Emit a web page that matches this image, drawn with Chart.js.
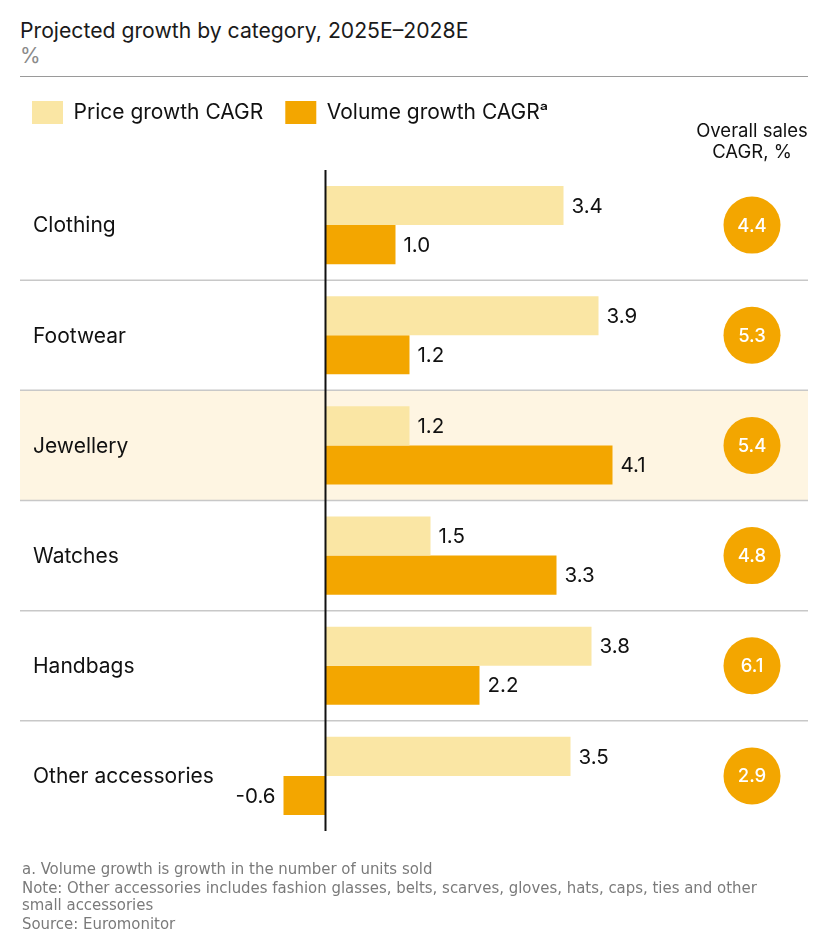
<!DOCTYPE html>
<html>
<head>
<meta charset="utf-8">
<script src="https://cdn.jsdelivr.net/npm/chart.js@4/dist/chart.umd.min.js"></script>
<style>
  body { margin: 0; background: #fff; font-family: Inter, "DejaVu Sans", sans-serif; }
  #wrap { position: relative; width: 840px; height: 948px; }
  #box { position: absolute; left: 0; top: 0; width: 840px; height: 948px; }
  .title { position: absolute; left: 20px; top: 17px; font-size: 21.2px; color: #1a1a1a; white-space: nowrap; }
  .unit { position: absolute; left: 20px; top: 43px; font-size: 21px; color: #8a8a8a; }
  .rule { position: absolute; left: 20px; top: 76px; width: 788px; border-top: 1.5px solid #9a9a9a; }
  .notes { position: absolute; left: 22px; top: 860px; font-family: "Liberation Sans Narrow", "DejaVu Sans Condensed", sans-serif;
           font-size: 16.6px; color: #7a7a7a; line-height: 17px; }
  .notes div { margin-bottom: 2px; }
</style>
</head>
<body>
<div id="wrap">
  <div class="title">Projected growth by category, 2025E–2028E</div>
  <div class="unit">%</div>
  <div class="rule"></div>
  <div id="box"><canvas id="cht"></canvas></div>
  <div class="notes">
    <div>a. Volume growth is growth in the number of units sold</div>
    <div>Note: Other accessories includes fashion glasses, belts, scarves, gloves, hats, caps, ties and other<br>small accessories</div>
    <div>Source: Euromonitor</div>
  </div>
</div>
<script>
const categories = ['Clothing', 'Footwear', 'Jewellery', 'Watches', 'Handbags', 'Other accessories'];
const priceGrowth = [3.4, 3.9, 1.2, 1.5, 3.8, 3.5];
const volumeGrowth = [1.0, 1.2, 4.1, 3.3, 2.2, -0.6];
const overallSales = [4.4, 5.3, 5.4, 4.8, 6.1, 2.9];
const highlighted = 'Jewellery';

const lightYellow = '#fae6a4';
const orange = '#f3a600';

Chart.defaults.font.family = 'Inter, "DejaVu Sans", sans-serif';
Chart.defaults.color = '#111';

// row backgrounds, separators, zero line, labels and the circles column
const rowsPlugin = {
  id: 'rows',
  beforeDraw(chart) {
    const { ctx, scales: { y } } = chart;
    const step = y.getPixelForValue(1) - y.getPixelForValue(0);
    const left = 20, right = 808;
    ctx.save();
    const hi = categories.indexOf(highlighted);
    ctx.fillStyle = '#fef5e2';
    ctx.fillRect(left, y.getPixelForValue(hi) - step / 2, right - left, step);
    ctx.strokeStyle = '#c8c8c8';
    ctx.lineWidth = 1.5;
    for (let i = 0; i < categories.length - 1; i++) {
      const yy = (y.getPixelForValue(i) + y.getPixelForValue(i + 1)) / 2;
      ctx.beginPath();
      ctx.moveTo(left, yy);
      ctx.lineTo(right, yy);
      ctx.stroke();
    }
    ctx.restore();
  },
  afterDatasetsDraw(chart) {
    const { ctx, chartArea, scales: { x, y } } = chart;
    ctx.save();
    // zero line
    const x0 = x.getPixelForValue(0);
    ctx.strokeStyle = '#111';
    ctx.lineWidth = 2;
    ctx.beginPath();
    ctx.moveTo(x0, chartArea.top);
    ctx.lineTo(x0, chartArea.bottom);
    ctx.stroke();

    // value labels
    ctx.font = '20.5px Inter, "DejaVu Sans", sans-serif';
    ctx.fillStyle = '#111';
    ctx.textBaseline = 'middle';
    chart.data.datasets.forEach((ds, di) => {
      chart.getDatasetMeta(di).data.forEach((bar, i) => {
        const v = ds.data[i];
        const neg = v < 0;
        ctx.textAlign = neg ? 'right' : 'left';
        ctx.fillText(v.toFixed(1), bar.x + (neg ? -8 : 8), bar.y + 1);
      });
    });

    // category names
    ctx.textAlign = 'left';
    ctx.font = '21px Inter, "DejaVu Sans", sans-serif';
    categories.forEach((c, i) => {
      ctx.fillText(c, 33, y.getPixelForValue(i) + 1);
    });

    // overall sales circles
    const cx = 752;
    ctx.textAlign = 'center';
    ctx.font = '18.5px Inter, "DejaVu Sans", sans-serif';
    ctx.fillText('Overall sales', cx, 131);
    ctx.fillText('CAGR, %', cx, 152);
    overallSales.forEach((v, i) => {
      const cy = y.getPixelForValue(i);
      ctx.fillStyle = orange;
      ctx.beginPath();
      ctx.arc(cx, cy, 28.5, 0, Math.PI * 2);
      ctx.fill();
      ctx.fillStyle = '#fff';
      ctx.font = '500 18.5px Inter, "DejaVu Sans", sans-serif';
      ctx.fillText(v.toFixed(1), cx, cy + 1);
    });
    ctx.restore();
  }
};

new Chart('cht', {
  type: 'bar',
  data: {
    labels: categories,
    datasets: [
      { label: 'Price growth CAGR', data: priceGrowth, backgroundColor: lightYellow, borderWidth: 0 },
      { label: 'Volume growth CAGRᵃ', data: volumeGrowth, backgroundColor: orange, borderWidth: 0 }
    ]
  },
  options: {
    indexAxis: 'y',
    responsive: true,
    maintainAspectRatio: false,
    animation: false,
    categoryPercentage: 0.71,
    barPercentage: 1.0,
    layout: { padding: { left: 10, right: 10, top: 79, bottom: 117 } },
    scales: {
      x: {
        type: 'linear',
        position: 'top',
        min: -4.507,
        max: 7.207,
        border: { display: false },
        grid: { display: false, drawTicks: false },
        ticks: { display: false },
        afterFit(scale) { scale.height = 36; }
      },
      y: { display: false }
    },
    plugins: {
      legend: {
        position: 'top',
        align: 'start',
        labels: { boxWidth: 31, boxHeight: 23, padding: 22, color: '#111', font: { size: 21 } }
      },
      tooltip: { enabled: false }
    }
  },
  plugins: [rowsPlugin]
});
</script>
</body>
</html>
